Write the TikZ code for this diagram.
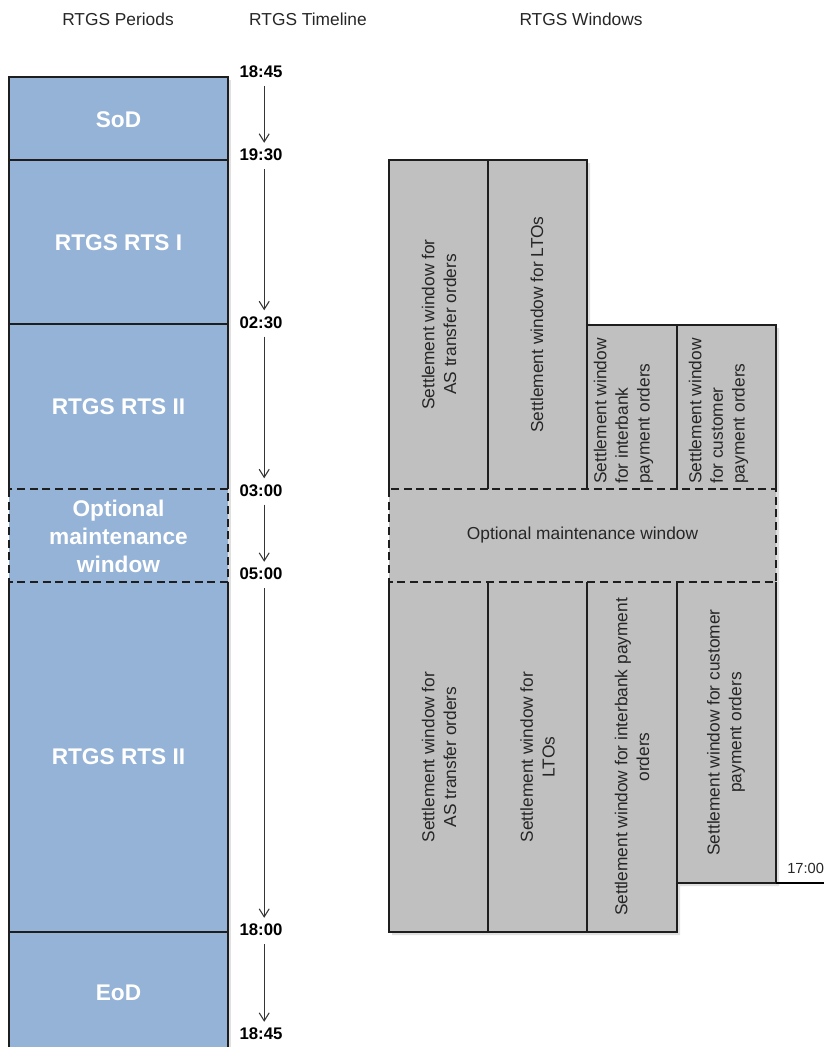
\documentclass[tikz,border=0pt]{standalone}
\usepackage{fontspec}
\setmainfont{Liberation Sans}
\usetikzlibrary{arrows.meta}
\definecolor{period}{HTML}{95B3D7}
\definecolor{win}{HTML}{C0C0C0}
\definecolor{edge}{HTML}{1E1E1E}
\definecolor{headtext}{HTML}{262626}
\begin{document}
\begin{tikzpicture}[x=0.75pt,y=-0.75pt,
  head/.style={font=\fontsize{13}{16}\selectfont, text=headtext, inner sep=0pt},
  plabel/.style={font=\fontsize{17}{21}\selectfont\bfseries, text=white, align=center, inner sep=0pt},
  tlabel/.style={font=\fontsize{12.6}{14}\selectfont\bfseries, text=black, inner sep=2pt},
  wtext/.style={font=\fontsize{13}{16.3}\selectfont, text=headtext, rotate=90, align=center, inner sep=0pt},
  tarrow/.style={draw=edge!90, line width=0.8pt, -{Straight Barb[length=6pt,width=7.5pt]}, shorten <=4pt, shorten >=2.5pt},
  solidline/.style={draw=edge, line width=1pt},
  dashline/.style={draw=edge, line width=1pt, dash pattern=on 6pt off 3.5pt},
  shadowfill/.style={fill=black, opacity=0.12},
]
\useasboundingbox (0,0) rectangle (824,1047);

% headers
\node[head] (hp) at (118,19) {RTGS Periods};
\node[head] (ht) at (308,19) {RTGS Timeline};
\node[head] (hw) at (581,19) {RTGS Windows};

% shadows
\path[shadowfill] (12,80) rectangle (231,1060);
\path[shadowfill] (392,163) -- (590,163) -- (590,328) -- (779,328) -- (779,886) -- (680,886) -- (680,935) -- (392,935) -- cycle;

% ---------- left column: periods ----------
\fill[period] (9,77) rectangle (228,1060);
\draw[solidline] (9,489) -- (9,77) -- (228,77) -- (228,489);
\draw[solidline] (9,582) -- (9,1060);
\draw[solidline] (228,582) -- (228,1060);
\draw[solidline] (9,160) -- (228,160);
\draw[solidline] (9,324) -- (228,324);
\draw[solidline] (9,932) -- (228,932);
\draw[dashline] (9,489) rectangle (228,582);

\node[plabel] (sod) at (118.5,120) {SoD};
\node[plabel] (rts1) at (118.5,243) {RTGS RTS I};
\node[plabel] (rts2a) at (118.5,407) {RTGS RTS II};
\node[plabel] (pmaint) at (118.5,536) {Optional\\maintenance\\window};
\node[plabel] (rts2b) at (118.5,757) {RTGS RTS II};
\node[plabel] (eod) at (118.5,993) {EoD};

% ---------- timeline ----------
\node[tlabel] (t1) at (261,71.7) {18:45};
\node[tlabel] (t2) at (261,155) {19:30};
\node[tlabel] (t3) at (261,322.5) {02:30};
\node[tlabel] (t4) at (261,490.5) {03:00};
\node[tlabel] (t5) at (261,574) {05:00};
\node[tlabel] (t6) at (261,930) {18:00};
\node[tlabel] (t7) at (261,1034) {18:45};
\draw[tarrow] ([xshift=2.4pt]t1.south) -- ([xshift=2.4pt]t2.north);
\draw[tarrow] ([xshift=2.4pt]t2.south) -- ([xshift=2.4pt]t3.north);
\draw[tarrow] ([xshift=2.4pt]t3.south) -- ([xshift=2.4pt]t4.north);
\draw[tarrow] ([xshift=2.4pt]t4.south) -- ([xshift=2.4pt]t5.north);
\draw[tarrow] ([xshift=2.4pt]t5.south) -- ([xshift=2.4pt]t6.north);
\draw[tarrow] ([xshift=2.4pt]t6.south) -- ([xshift=2.4pt]t7.north);

% ---------- right: windows ----------
\fill[win] (389,160) -- (587,160) -- (587,325) -- (776,325) -- (776,883) -- (677,883) -- (677,932) -- (389,932) -- cycle;
% top row
\draw[solidline] (389,489) -- (389,160) -- (488,160) -- (488,489);
\draw[solidline] (488,489) -- (488,160) -- (587,160) -- (587,489);
\draw[solidline] (587,489) -- (587,325) -- (677,325) -- (677,489);
\draw[solidline] (677,489) -- (677,325) -- (776,325) -- (776,489);
% bottom row
\draw[solidline] (389,582) -- (389,932) -- (488,932) -- (488,582);
\draw[solidline] (488,582) -- (488,932) -- (587,932) -- (587,582);
\draw[solidline] (587,582) -- (587,932) -- (677,932) -- (677,582);
\draw[solidline] (677,582) -- (677,883) -- (776,883) -- (776,582);
% maintenance
\draw[dashline] (389,489) rectangle (776,582);

\node[wtext] (wasa) at (439,324.5) {Settlement window for\\AS transfer orders};
\node[wtext] (wltoa) at (537,324.5) {Settlement window for LTOs};
\node[wtext, anchor=west, align=left] (wiba) at (623.5,484) {Settlement window\\for interbank\\payment orders};
\node[wtext, anchor=west, align=left] (wcua) at (718.5,484) {Settlement window\\for customer\\payment orders};
\node[font=\fontsize{13}{16}\selectfont, text=headtext, inner sep=0pt] (wmaint) at (582.5,535.5) {Optional maintenance window};
\node[wtext] (wasb) at (439,757) {Settlement window for\\AS transfer orders};
\node[wtext] (wltob) at (537.5,757) {Settlement window for\\LTOs};
\node[wtext] (wibb) at (632,757) {Settlement window for interbank payment\\orders};
\node[wtext] (wcub) at (726,732.5) {Settlement window for customer\\payment orders};

% 17:00 marker
\coordinate (endA) at (776,883);
\coordinate (endB) at (824,883);
\draw[draw=black, line width=2.2pt] (endA) -- (endB);
\node[font=\fontsize{11}{13}\selectfont, text=headtext, anchor=base west, inner sep=0pt] (t1700) at (787,873) {17:00};
\end{tikzpicture}
\end{document}
